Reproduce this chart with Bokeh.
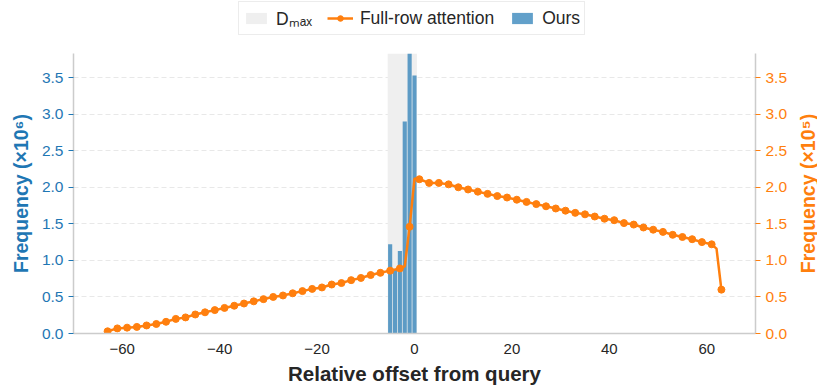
from bokeh.plotting import figure
from bokeh.layouts import column, row
from bokeh.models import (Range1d, LinearAxis, Legend, LegendItem, FixedTicker,
                          Label)
from bokeh.embed import file_html
from bokeh.resources import INLINE

# ---------------- data ----------------
ours_offsets = [-5, -4, -3, -2, -1, 0]
ours_freq_1e6 = [1.22, 0.87, 1.13, 2.90, 3.83, 3.53]

full_offsets = [-63, -61, -59, -57, -55, -53, -51, -49, -47, -45, -43, -41, -39,
                -37, -35, -33, -31, -29, -27, -25, -23, -21, -19, -17, -15, -13,
                -11, -9, -7, -5, -3, -2, -1, 0, 1, 3, 5, 7, 9, 11, 13, 15, 17, 19,
                21, 23, 25, 27, 29, 31, 33, 35, 37, 39, 41, 43, 45, 47, 49, 51,
                53, 55, 57, 59, 61, 62, 63]
full_freq_1e5 = [0.03, 0.07, 0.08, 0.09, 0.11, 0.13, 0.16, 0.20, 0.22, 0.26, 0.29,
                 0.32, 0.35, 0.38, 0.41, 0.44, 0.47, 0.50, 0.52, 0.55, 0.58, 0.61,
                 0.63, 0.67, 0.69, 0.73, 0.76, 0.80, 0.83, 0.86, 0.89, 0.92, 1.46,
                 2.12, 2.11, 2.06, 2.06, 2.04, 2.00, 1.97, 1.94, 1.91, 1.88, 1.86,
                 1.83, 1.80, 1.77, 1.74, 1.71, 1.68, 1.65, 1.63, 1.60, 1.57, 1.55,
                 1.51, 1.49, 1.45, 1.42, 1.39, 1.35, 1.32, 1.29, 1.25, 1.22, 1.16,
                 0.60]

dmax_left, dmax_right = -5.5, 0.5

x_ticks = [-60, -40, -20, 0, 20, 40, 60]
x_tick_labels = ["\u221260", "\u221240", "\u221220", "0", "20", "40", "60"]
y_ticks = [0.0, 0.5, 1.0, 1.5, 2.0, 2.5, 3.0, 3.5]
y_tick_labels = ["0.0", "0.5", "1.0", "1.5", "2.0", "2.5", "3.0", "3.5"]

legend_labels = ["D\u2098\u2090\u2093", "Full-row attention", "Ours"]
left_label = "Frequency (\u00d710\u2076)"
right_label = "Frequency (\u00d710\u2075)"
x_label = "Relative offset from query"

x_min, x_max = -70, 70
y_max = 3.83

BLUE = "#1f77b4"
ORANGE = "#ff7f0e"
BAND = "#efefef"
FONT = "Liberation Sans"

# ---------------- main figure ----------------
p = figure(width=797, height=342, output_backend="svg", toolbar_location=None,
           x_range=Range1d(x_min, x_max), y_range=Range1d(0, y_max),
           min_border_left=73, min_border_right=42, min_border_top=8,
           min_border_bottom=54)
p.outline_line_color = None
p.background_fill_color = "white"
p.extra_y_ranges = {"right": Range1d(0, y_max)}

# grid
p.xgrid.visible = False
p.ygrid.ticker = FixedTicker(ticks=y_ticks)
p.ygrid.grid_line_color = "#e8e8e8"
p.ygrid.grid_line_dash = "5 3"
p.ygrid.grid_line_width = 1

# D_max band
p.quad(left=[dmax_left], right=[dmax_right], bottom=[0], top=[y_max],
       fill_color=BAND, line_color=None)

# Ours bars
p.vbar(x=ours_offsets, top=ours_freq_1e6, width=0.85, bottom=0,
       fill_color=BLUE, fill_alpha=0.7, line_color=None)

# full-row attention line
marker_x = [o for o in full_offsets if o % 2 != 0]
marker_y = [v for o, v in zip(full_offsets, full_freq_1e5) if o % 2 != 0]
p.line(full_offsets, full_freq_1e5, line_color=ORANGE, line_width=2.5,
       y_range_name="right")
p.scatter(marker_x, marker_y, size=7, fill_color=ORANGE, line_color=ORANGE,
          y_range_name="right")

# axes
xa = p.xaxis[0]
xa.ticker = FixedTicker(ticks=x_ticks)
xa.major_label_overrides = {t: l for t, l in zip(x_ticks, x_tick_labels)}
xa.major_tick_line_color = None
xa.minor_tick_line_color = None
xa.axis_line_color = "#cccccc"
xa.axis_line_width = 1.5
xa.major_label_text_font = FONT
xa.major_label_text_font_size = "15px"
xa.major_label_text_color = "#262626"
xa.major_label_standoff = 4
xa.axis_label = x_label
xa.axis_label_text_font = FONT
xa.axis_label_text_font_style = "bold"
xa.axis_label_text_font_size = "20.5px"
xa.axis_label_text_color = "#262626"
xa.axis_label_standoff = 5

ya = p.yaxis[0]
ya.ticker = FixedTicker(ticks=y_ticks)
ya.major_label_overrides = {t: l for t, l in zip(y_ticks, y_tick_labels)}
ya.minor_tick_line_color = None
ya.major_tick_in = 0
ya.major_tick_out = 5
ya.major_tick_line_color = BLUE
ya.axis_line_color = "#cccccc"
ya.axis_line_width = 1.5
ya.major_label_text_font = FONT
ya.major_label_text_font_size = "15.5px"
ya.major_label_text_color = BLUE
ya.major_label_standoff = 5
ya.axis_label = left_label
ya.axis_label_text_font = FONT
ya.axis_label_text_font_style = "bold"
ya.axis_label_text_font_size = "19.5px"
ya.axis_label_text_color = BLUE
ya.axis_label_standoff = 7

ra = LinearAxis(y_range_name="right", ticker=FixedTicker(ticks=y_ticks))
ra.major_label_overrides = {t: l for t, l in zip(y_ticks, y_tick_labels)}
ra.minor_tick_line_color = None
ra.major_tick_in = 0
ra.major_tick_out = 5
ra.major_tick_line_color = ORANGE
ra.axis_line_color = "#cccccc"
ra.axis_line_width = 1.5
ra.major_label_text_font = FONT
ra.major_label_text_font_size = "15.5px"
ra.major_label_text_color = ORANGE
ra.major_label_standoff = 5
p.add_layout(ra, "right")

# ---------------- right label strip (reads bottom-to-top) ----------------
rf = figure(width=20, height=342, output_backend="svg", toolbar_location=None,
            x_axis_type=None, y_axis_type=None,
            x_range=Range1d(0, 1), y_range=Range1d(0, 1),
            min_border_left=0, min_border_right=0, min_border_top=8,
            min_border_bottom=54)
rf.outline_line_color = None
rf.add_layout(Label(x=0.5, y=0.5, text=right_label, angle=90, angle_units="deg",
                    text_align="center", text_baseline="middle",
                    text_font=FONT, text_font_style="bold",
                    text_font_size="19.5px", text_color=ORANGE))

# ---------------- legend strip ----------------
lg = figure(width=817, height=45, output_backend="svg", toolbar_location=None,
            x_axis_type=None, y_axis_type=None,
            x_range=Range1d(0, 1), y_range=Range1d(0, 1),
            min_border_left=0, min_border_right=0,
            min_border_top=0, min_border_bottom=0)
lg.outline_line_color = None
# legend-only proxies, kept outside the strip's visible range
r_band = lg.quad(left=[2], right=[3], bottom=[2], top=[3], fill_color=BAND,
                 line_color=None)
r_line = lg.line([2, 3], [2, 3], line_color=ORANGE, line_width=2.5)
r_sc = lg.scatter([2], [2], size=7, fill_color=ORANGE, line_color=ORANGE)
r_bar = lg.vbar(x=[2], top=[3], bottom=2, width=0.85, fill_color=BLUE,
                fill_alpha=0.7, line_color=None)

legend = Legend(items=[
    LegendItem(label=legend_labels[0], renderers=[r_band]),
    LegendItem(label=legend_labels[1], renderers=[r_line, r_sc]),
    LegendItem(label=legend_labels[2], renderers=[r_bar]),
], orientation="horizontal", location=(238, 10))
legend.label_text_font = FONT
legend.label_text_font_size = "17.5px"
legend.label_text_color = "#262626"
legend.border_line_color = "#d9d9d9"
legend.border_line_width = 1
legend.background_fill_color = "white"
legend.glyph_width = 26
legend.glyph_height = 14
legend.spacing = 15
legend.padding = 4
legend.margin = 0
legend.label_standoff = 7
lg.add_layout(legend, "center")

layout = column(lg, row(p, rf, spacing=0), spacing=0)
open("out.html", "w").write(file_html(layout, INLINE))
